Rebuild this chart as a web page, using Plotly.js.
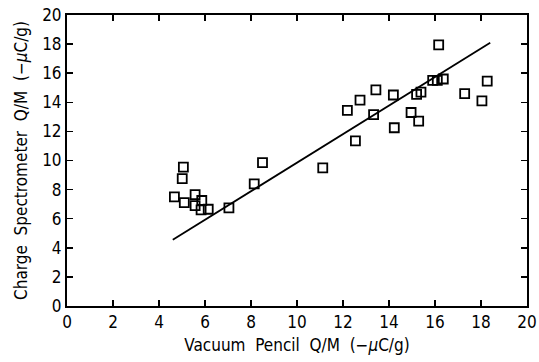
<!DOCTYPE html>
<html><head><meta charset="utf-8">
<script src="https://cdn.plot.ly/plotly-3.0.1.min.js"></script>
<style>html,body{margin:0;padding:0;background:#fff;}</style>
</head><body>
<div id="chart" style="width:539px;height:362px;"></div>
<script>
const vacuumPencil = [5.06, 5.01, 4.67, 5.10, 5.57, 5.86, 5.57, 5.83, 6.14, 7.04, 8.14, 8.50,
  11.12, 12.19, 12.54, 12.74, 13.33, 13.43, 14.19, 14.23, 14.96, 15.20, 15.29, 15.39,
  15.90, 16.10, 16.16, 16.36, 17.29, 18.04, 18.27];
const chargeSpectrometer = [9.55, 8.75, 7.5, 7.1, 7.65, 7.25, 6.9, 6.6, 6.65, 6.75, 8.4, 9.85,
  9.5, 13.45, 11.35, 14.15, 13.15, 14.85, 14.5, 12.25, 13.3, 14.55, 12.7, 14.7,
  15.5, 15.5, 17.95, 15.6, 14.6, 14.1, 15.45];
const fitX = [4.6, 18.4];
const fitY = [4.55, 18.1];
const tickVals = [0, 2, 4, 6, 8, 10, 12, 14, 16, 18, 20];
const tickText = ["0", "2", "4", "6", "8", "10", "12", "14", "16", "18", "20"];

const fontFam = "'Liberation Sans Narrow', 'DejaVu Sans Condensed', Arial, sans-serif";
const axisCommon = {
  range: [0, 20], tickvals: tickVals, ticktext: tickText,
  ticks: "inside", ticklen: 6, tickwidth: 1.5, tickcolor: "#000",
  showline: true, linewidth: 2, linecolor: "#000", mirror: "ticks",
  showgrid: false, zeroline: false,
  tickfont: {family: fontFam, size: 17, color: "#000"}
};
const data = [
  {x: vacuumPencil, y: chargeSpectrometer, mode: "markers", type: "scatter",
   marker: {symbol: "square-open", size: 9, color: "#000", line: {width: 1.8, color: "#000"}},
   hoverinfo: "skip"},
  {x: fitX, y: fitY, mode: "lines", type: "scatter",
   line: {color: "#000", width: 1.8}, hoverinfo: "skip"}
];
const layout = {
  width: 539, height: 362,
  margin: {l: 67, r: 12, t: 15, b: 56},
  paper_bgcolor: "#fff", plot_bgcolor: "#fff",
  showlegend: false,
  xaxis: Object.assign({}, axisCommon, {
    title: {text: "Vacuum  Pencil  Q/M  (−<i>μ</i>C/g)", font: {family: fontFam, size: 17, color: "#000"}, standoff: 8}
  }),
  yaxis: Object.assign({}, axisCommon, {
    title: {text: "Charge  Spectrometer  Q/M  (−<i>μ</i>C/g)", font: {family: fontFam, size: 17, color: "#000"}, standoff: 10}
  })
};
Plotly.newPlot("chart", data, layout, {staticPlot: true, displayModeBar: false});
</script>
</body></html>
